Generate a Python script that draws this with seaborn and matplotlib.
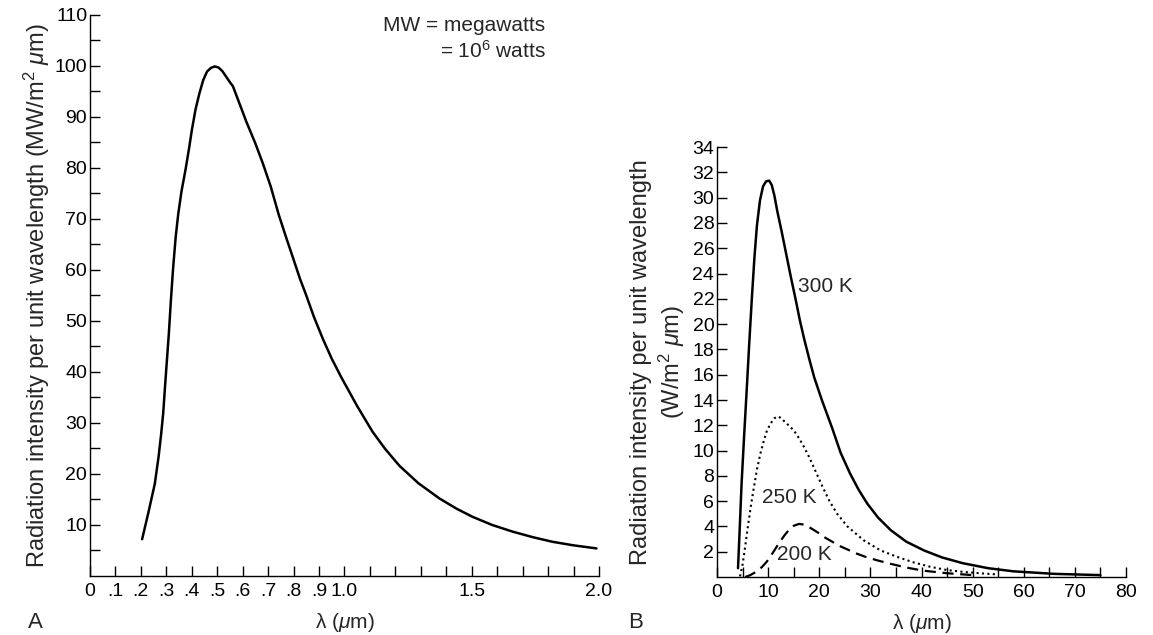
import numpy as np
import matplotlib
matplotlib.use("Agg")
import matplotlib.pyplot as plt
import pandas as pd
import seaborn as sns

# panel A: solar radiation per unit wavelength (MW/m2 um)
sun_wl = [0.205, 0.23, 0.255, 0.27, 0.28, 0.288, 0.294, 0.302, 0.31, 0.318, 0.327,
          0.337, 0.347, 0.36, 0.375, 0.39, 0.40, 0.415, 0.43, 0.445, 0.46, 0.475,
          0.49, 0.505, 0.52, 0.535, 0.55, 0.562, 0.59, 0.615, 0.65, 0.68, 0.71,
          0.742, 0.77, 0.797, 0.825, 0.85, 0.88, 0.915, 0.95, 0.987, 1.05, 1.11,
          1.16, 1.216, 1.29, 1.373, 1.44, 1.503, 1.58, 1.66, 1.74, 1.817, 1.9, 1.99]
sun_int = [7.2, 12.5, 18.1, 23.5, 27.9, 32.0, 36.4, 42.0, 47.5, 54.0, 60.5,
           66.5, 71.0, 75.5, 79.5, 84.0, 87.3, 91.5, 94.6, 97.2, 98.9, 99.6,
           99.9, 99.7, 99.0, 97.9, 96.8, 96.0, 92.3, 89.0, 84.8, 80.8, 76.4,
           70.8, 66.5, 62.5, 58.3, 55.0, 50.8, 46.5, 42.6, 39.0, 33.3, 28.3,
           24.9, 21.6, 18.2, 15.2, 13.2, 11.6, 10.0, 8.7, 7.6, 6.7, 6.0, 5.4]

# panel B: 300 K, 250 K and 200 K (W/m2 um)
wl_300 = [4.1, 4.4, 4.8, 5.3, 5.8, 6.3, 6.8, 7.3, 7.8, 8.4, 9.0, 9.6, 10.2, 10.7,
          11.2, 11.8, 12.6, 13.5, 14.4, 15.4, 16.2, 17.0, 18.0, 19.0, 20.5, 22.5,
          24.2, 26.0, 27.7, 29.4, 31.5, 34.0, 37.0, 40.5, 44.0, 48.0, 53.0, 58.0,
          66.0, 75.0]
int_300 = [0.7, 3.5, 7.4, 11.2, 14.8, 18.5, 22.0, 25.2, 27.8, 29.8, 30.9, 31.3, 31.35, 31.0,
           30.2, 28.9, 27.4, 25.6, 23.8, 21.9, 20.3, 18.9, 17.3, 15.8, 14.0, 11.8,
           9.8, 8.2, 6.9, 5.8, 4.7, 3.7, 2.8, 2.1, 1.55, 1.1, 0.7, 0.45,
           0.25, 0.15]

wl_250 = [4.5, 5.0, 5.5, 6.0, 6.5, 7.0, 7.8, 8.5, 9.1, 9.7, 10.4, 11.2, 11.8, 12.4,
          13.2, 14.0, 15.0, 16.0, 17.0, 18.0, 18.9, 19.9, 20.8, 22.0, 23.5, 25.5,
          28.7, 32.0, 35.2, 38.5, 41.8, 45.0, 48.3, 52.0, 55.0]
int_250 = [0.05, 1.0, 2.4, 3.9, 5.3, 6.6, 8.5, 9.8, 10.7, 11.5, 12.1, 12.55, 12.7, 12.6,
           12.3, 12.0, 11.6, 11.0, 10.3, 9.5, 8.7, 7.8, 7.0, 6.0, 5.0, 4.0,
           2.9, 2.1, 1.6, 1.15, 0.8, 0.55, 0.4, 0.28, 0.2]

wl_200 = [5.5, 6.5, 7.8, 8.8, 9.7, 10.5, 11.2, 12.4, 13.2, 14.0, 15.0, 16.0, 17.0,
          18.0, 19.0, 20.0, 21.2, 22.5, 24.0, 25.4, 27.0, 29.0, 31.5, 33.9, 37.0,
          40.4, 45.0, 50.0]
int_200 = [0.0, 0.15, 0.45, 0.8, 1.2, 1.65, 2.1, 2.85, 3.3, 3.7, 4.05, 4.2, 4.15,
           3.95, 3.7, 3.45, 3.1, 2.8, 2.45, 2.2, 1.9, 1.6, 1.3, 1.05, 0.75,
           0.5, 0.3, 0.15]

# tick values and labels
a_xticks = [round(0.1 * i, 1) for i in range(21)]
a_xlabels = ["0", ".1", ".2", ".3", ".4", ".5", ".6", ".7", ".8", ".9", "1.0",
             "", "", "", "", "1.5", "", "", "", "", "2.0"]
a_yticks = list(range(5, 115, 5))
a_ylabels = [str(v) if v % 10 == 0 else "" for v in a_yticks]
b_xticks = list(range(0, 85, 5))
b_xlabels = [str(v) if v % 10 == 0 else "" for v in b_xticks]
b_yticks = list(range(2, 36, 2))
b_ylabels = [str(v) for v in b_yticks]

sns.set_style("ticks")
plt.rcParams['font.family'] = ['Liberation Sans', 'DejaVu Sans']
plt.rcParams['mathtext.fontset'] = 'custom'
plt.rcParams['mathtext.rm'] = 'Liberation Sans'
plt.rcParams['mathtext.it'] = 'Liberation Sans:italic'

fig = plt.figure(figsize=(11.53, 6.35), dpi=100)
ax_a = fig.add_axes([0.078, 0.093, 0.4415, 0.8835])
ax_b = fig.add_axes([0.6219, 0.0913, 0.3547, 0.677])

sns.lineplot(x=sun_wl, y=sun_int, ax=ax_a, color="black", linewidth=1.8,
             sort=False, estimator=None)
sns.lineplot(x=wl_300, y=int_300, ax=ax_b, color="black", linewidth=1.8,
             sort=False, estimator=None)
sns.lineplot(x=wl_250, y=int_250, ax=ax_b, color="black", linewidth=1.5,
             linestyle=(0, (1, 1.6)), sort=False, estimator=None)
sns.lineplot(x=wl_200, y=int_200, ax=ax_b, color="black", linewidth=1.6,
             linestyle=(0, (5, 3)), sort=False, estimator=None)

for ax in (ax_a, ax_b):
    sns.despine(ax=ax)
    for s in ("left", "bottom"):
        ax.spines[s].set_linewidth(1.0)
        ax.spines[s].set_color("black")
    ax.tick_params(direction="in", length=7, width=1, labelsize=14, colors="black")
    ax.tick_params(axis="x", pad=5)
    ax.tick_params(axis="y", pad=2)

ax_a.set_xlim(0, 2.0)
ax_a.set_ylim(0, 110)
ax_a.set_xticks(a_xticks)
ax_a.set_xticklabels(a_xlabels)
ax_a.set_yticks(a_yticks)
ax_a.set_yticklabels(a_ylabels)
ax_a.set_xlabel(r"λ ($\mu$m)", fontsize=15, labelpad=8)
ax_a.set_ylabel(r"Radiation intensity per unit wavelength (MW/m$^2$ $\mu$m)",
                fontsize=17, labelpad=2)

ax_b.set_xlim(0, 80)
ax_b.set_ylim(0, 34)
ax_b.set_xticks(b_xticks)
ax_b.set_xticklabels(b_xlabels)
ax_b.set_yticks(b_yticks)
ax_b.set_yticklabels(b_ylabels)
ax_b.set_xlabel(r"λ ($\mu$m)", fontsize=15, labelpad=8)
ax_b.set_ylabel("Radiation intensity per unit wavelength\n" + r"(W/m$^2$ $\mu$m)",
                fontsize=17, labelpad=4)

ax_a.text(1.79, 108.0, "MW = megawatts", ha="right", va="center", fontsize=15,
          clip_on=False)
ax_a.text(1.79, 103.0, r"= 10$^6$ watts", ha="right", va="center", fontsize=15,
          clip_on=False)

ax_b.text(15.9, 23.0, "300 K", ha="left", va="center", fontsize=15)
ax_b.text(8.8, 6.3, "250 K", ha="left", va="center", fontsize=15)
ax_b.text(11.8, 1.75, "200 K", ha="left", va="center", fontsize=15)

fig.text(0.0304, 0.019, "A", fontsize=16, ha="center", va="center")
fig.text(0.5516, 0.019, "B", fontsize=16, ha="center", va="center")

fig.savefig("out.png", dpi=100)
